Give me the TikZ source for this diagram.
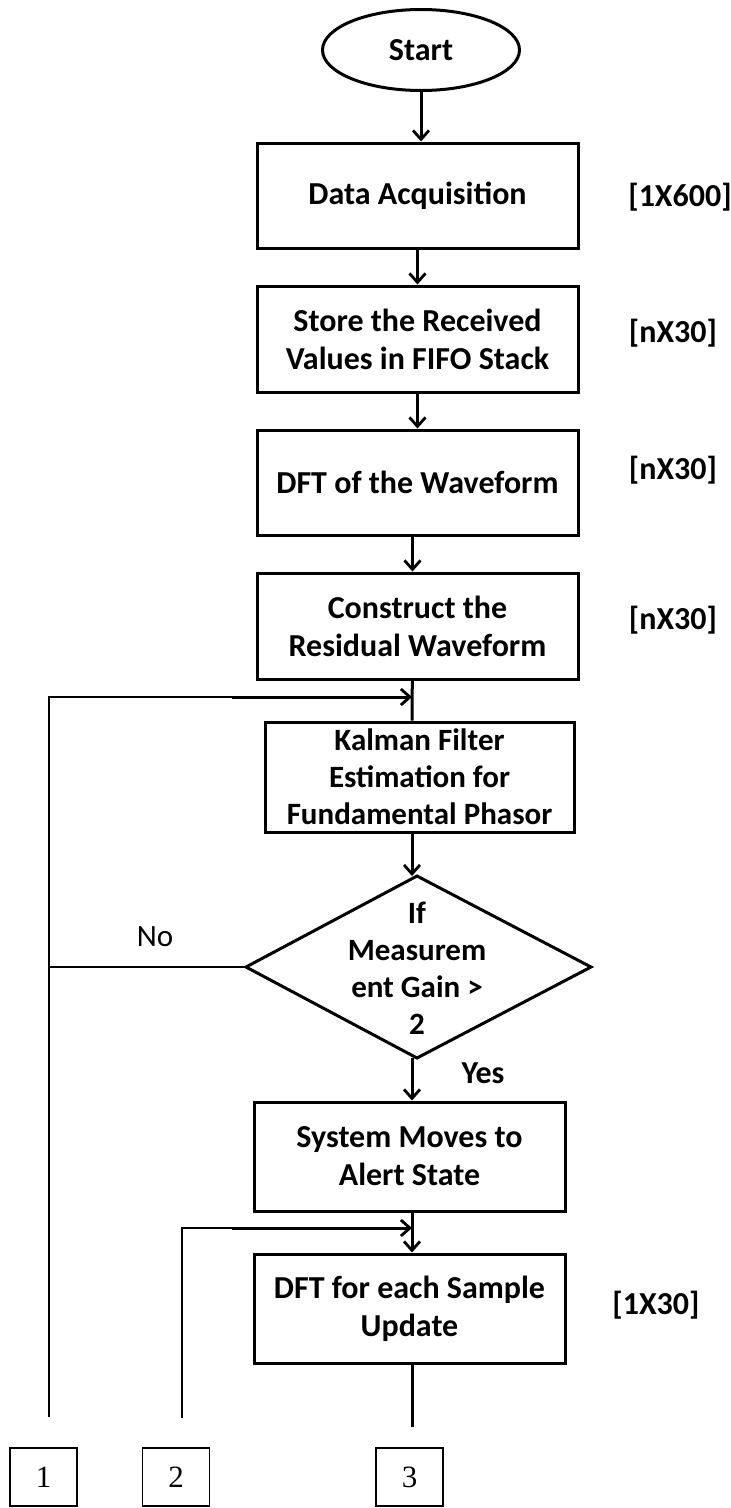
\documentclass[tikz,border=0pt]{standalone}
\usepackage{fontspec}
\setmainfont{Carlito}
\newfontfamily\numfont{Liberation Serif}
\usetikzlibrary{arrows.meta,shapes.geometric}
\begin{document}
\begin{tikzpicture}[x=1pt,y=-1pt,
  txt/.style={font=\bfseries\fontsize{32}{38}\selectfont,align=center,inner sep=0pt},
  box/.style={txt,draw,line width=3pt},
  flow/.style={line width=3pt,-{Straight Barb[length=9pt,width=16pt,line width=2.8pt]}},
  link/.style={line width=3pt},
  thinlink/.style={line width=1.5pt},
  tag/.style={txt},
  pagebox/.style={draw,line width=1.2pt,minimum width=67pt,minimum height=58pt,inner sep=0pt,font=\numfont\fontsize{31}{31}\selectfont}
]
\useasboundingbox (0,0) rectangle (731,1508);

% process steps
\node[box,ellipse,minimum width=197pt,minimum height=81pt] (start) at (421,50) {Start};
\node[box,minimum width=321pt,minimum height=105pt] (acq) at (417.5,195.5) {Data Acquisition};
\node[box,minimum width=321pt,minimum height=106pt] (store) at (417.5,339) {Store the Received\\Values in FIFO Stack};
\node[box,minimum width=321pt,minimum height=105pt] (dft) at (417.5,482.5) {DFT of the Waveform};
\node[box,minimum width=321pt,minimum height=106pt] (cons) at (417.5,626) {Construct the\\Residual Waveform};
\node[box,minimum width=309pt,minimum height=110pt,font=\bfseries\fontsize{31}{37}\selectfont] (kal) at (419.5,777) {Kalman Filter\\Estimation for\\Fundamental Phasor};

% decision diamond
\coordinate (dtop) at (417,876);
\coordinate (dright) at (591,967);
\coordinate (dbot) at (417,1058);
\coordinate (dleft) at (246,967);
\draw[line width=3pt,line join=miter] (dtop) -- (dright) -- (dbot) -- (dleft) -- cycle;
\node[txt,font=\bfseries\fontsize{31}{37}\selectfont] (dec) at (417,968) {If\\Measurem\\ent Gain >\\2};

\node[box,minimum width=311pt,minimum height=109pt] (alert) at (409.5,1156.5) {System Moves to\\Alert State};
\node[box,minimum width=311pt,minimum height=109pt] (upd) at (409.5,1308.5) {DFT for each Sample\\Update};

% matrix sizes
\node[tag] (s1) at (680,197) {[1X600]};
\node[tag] (s2) at (673,333) {[nX30]};
\node[tag] (s3) at (673,470) {[nX30]};
\node[tag] (s4) at (673,620) {[nX30]};
\node[tag] (s5) at (656,1305) {[1X30]};

% branch labels
\node[txt,font=\mdseries\fontsize{31}{37}\selectfont] (no) at (155,937) {No};
\node[txt] (yes) at (483,1073) {Yes};

% off-page connectors
\node[pagebox] (p1) at (43.5,1477) {1};
\node[pagebox] (p2) at (176,1477) {2};
\node[pagebox] (p3) at (409.5,1477) {3};

% connector ends and junctions
\coordinate (e1) at (49,1417);
\coordinate (e2) at (182,1418);
\coordinate (e3) at (412,1427);
\coordinate (j1) at (412,697);
\coordinate (j2) at (412,1228);
\coordinate (k1) at (232,697);
\coordinate (k2) at (232,1228);

% main flow
\draw[flow] (start.south) -- (start.south |- acq.north);
\draw[flow] (acq.south) -- (store.north);
\draw[flow] (store.south) -- (dft.north);
\draw[flow] ([xshift=-5pt]dft.south) -- ([xshift=-5pt]cons.north);
\draw[link] ([xshift=-5pt]cons.south) -- (j1) -- (j1 |- kal.north);
\draw[flow] (j1 |- kal.south) -- (j1 |- dtop);
\draw[flow] (j1 |- dbot) -- (j1 |- alert.north);
\draw[flow] (j2 |- alert.south) -- (j2 |- upd.north);
\draw[link] (j2 |- upd.south) -- (e3);

% return paths
\draw[thinlink] (dleft) -- (dleft -| e1);
\draw[thinlink] (e1) |- (k1);
\draw[flow] (k1) -- (j1);
\draw[thinlink] (e2) |- (k2);
\draw[flow] (k2) -- (j2);
\end{tikzpicture}
\end{document}
